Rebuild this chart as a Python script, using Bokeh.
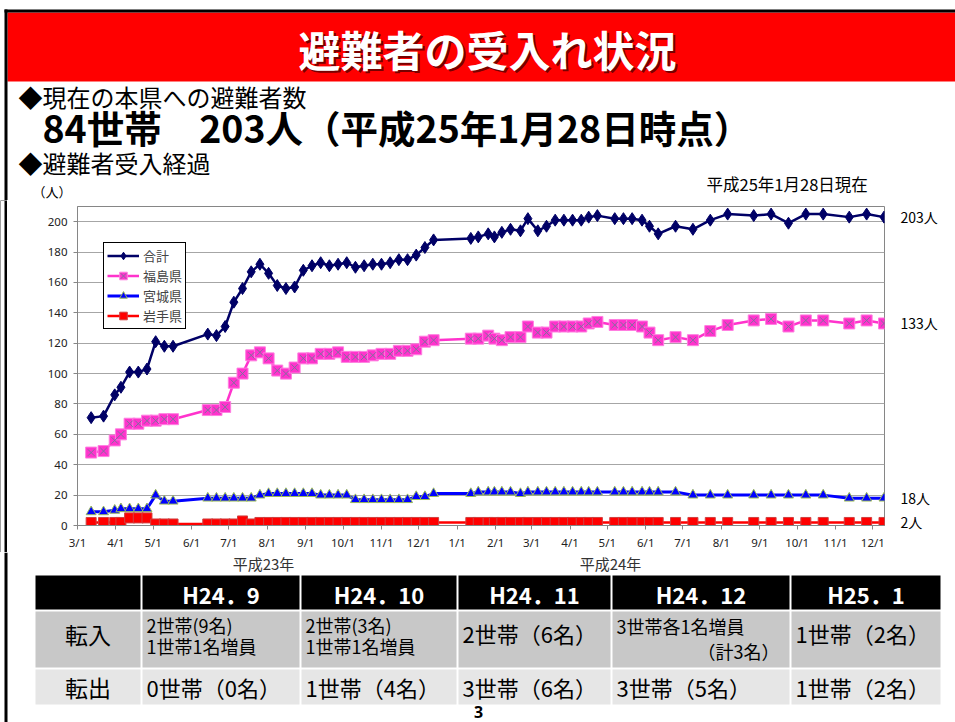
import pandas as pd
from datetime import datetime, timedelta
from bokeh.plotting import figure
from bokeh.layouts import column, row
from bokeh.models import (Range1d, BoxAnnotation, Label, Legend, LegendItem, LinearAxis,
                          FixedTicker, CustomJSTickFormatter, ColumnDataSource)
from bokeh.embed import file_html
from bokeh.resources import INLINE

# ---------------- data ----------------
dates = [
    "2011-03-12", "2011-03-22", "2011-03-31", "2011-04-05", "2011-04-12", "2011-04-19", "2011-04-26", "2011-05-03", "2011-05-10", "2011-05-17",
    "2011-06-14", "2011-06-21", "2011-06-28", "2011-07-05", "2011-07-12", "2011-07-19", "2011-07-26", "2011-08-02", "2011-08-09", "2011-08-16",
    "2011-08-23", "2011-08-30", "2011-09-06", "2011-09-13", "2011-09-20", "2011-09-27", "2011-10-04", "2011-10-11", "2011-10-18", "2011-10-25",
    "2011-11-01", "2011-11-08", "2011-11-15", "2011-11-22", "2011-11-29", "2011-12-06", "2011-12-13",
    "2012-01-12", "2012-01-18", "2012-01-26", "2012-01-31", "2012-02-06", "2012-02-13", "2012-02-21", "2012-02-27", "2012-03-06",
    "2012-03-13", "2012-03-20", "2012-03-27", "2012-04-03", "2012-04-10", "2012-04-16", "2012-04-23",
    "2012-05-07", "2012-05-14", "2012-05-21", "2012-05-29", "2012-06-04", "2012-06-11", "2012-06-25", "2012-07-09", "2012-07-23",
    "2012-08-06", "2012-08-27", "2012-09-10", "2012-09-24", "2012-10-08", "2012-10-22", "2012-11-12", "2012-11-26", "2012-12-10",
]
total = [71, 72, 86, 91, 101, 101, 103, 121, 118, 118,
         126, 125, 131, 147, 156, 167, 172, 166, 158, 156,
         157, 168, 171, 173, 171, 172, 173, 170, 171, 172,
         172, 173, 175, 175, 178, 183, 188,
         189, 190, 192, 190, 193, 195, 194, 202, 194, 197, 201, 201, 201, 201, 203, 204,
         202, 202, 202, 201, 197, 192, 197, 195, 201, 205, 204, 205, 199, 205, 205, 203, 205, 203]
fukushima = [48, 49, 56, 60, 67, 67, 69, 69, 70, 70,
             76, 76, 78, 94, 100, 112, 114, 110, 102, 100,
             104, 110, 110, 113, 113, 114, 111, 111, 111, 112,
             113, 113, 115, 115, 116, 121, 122,
             123, 123, 125, 123, 122, 124, 124, 131, 127, 127, 131, 131, 131, 131, 133, 134,
             132, 132, 132, 131, 127, 122, 124, 122, 128, 132, 135, 136, 131, 135, 135, 133, 135, 133]
miyagi = [9, 9, 10, 11, 11, 11, 11, 20, 16, 16,
          18, 18, 18, 18, 18, 18, 20, 21, 21, 21,
          21, 21, 21, 20, 20, 20, 20, 17, 17, 17,
          17, 17, 17, 17, 19, 19, 21,
          21, 22, 22, 22, 22, 22, 21, 22, 22, 22, 22, 22, 22, 22, 22, 22,
          22, 22, 22, 22, 22, 22, 22, 20, 20, 20, 20, 20, 20, 20, 20, 18, 18, 18]
iwate = [2, 2, 2, 2, 5, 5, 5, 1, 1, 1,
         1, 1, 1, 1, 3, 1, 2, 2, 2, 2,
         2, 2, 2, 2, 2, 2, 2, 2, 2, 2,
         2, 2, 2, 2, 2, 2, 2,
         2, 2, 2, 2, 2, 2, 2, 2, 2, 2, 2, 2, 2, 2, 2, 2,
         2, 2, 2, 2, 2, 2, 2, 2, 2, 2, 2, 2, 2, 2, 2, 2, 2, 2]
series_names = ["合計", "福島県", "宮城県", "岩手県"]
y_ticks = [0, 20, 40, 60, 80, 100, 120, 140, 160, 180, 200]
x_tick_dates = pd.date_range("2011-03-01", "2012-12-01", freq="MS")
year_labels = ["平成23年", "平成24年"]
unit_label = "（人）"
asof_label = "平成25年1月28日現在"

title_text = "避難者の受入れ状況"
heading1 = "◆現在の本県への避難者数"
headline = "84世帯　203人（平成25年1月28日時点）"
heading2 = "◆避難者受入経過"

table_months = ["H24．9", "H24．10", "H24．11", "H24．12", "H25．1"]
row_labels = ["転入", "転出"]
transfer_in = [["2世帯(9名)", "1世帯1名増員"], ["2世帯(3名)", "1世帯1名増員"], ["2世帯（6名）"],
               ["3世帯各1名増員", "（計3名）"], ["1世帯（2名）"]]
transfer_out = ["0世帯（0名）", "1世帯（4名）", "3世帯（6名）", "3世帯（5名）", "1世帯（2名）"]
page_no = "3"

# ---------------- layout constants ----------------
W = 955
HEAD_H = 200          # page rows 0..200
MID_H = 352           # page rows 200..552
STRIP_W = 7           # white gap 0..4 + black slide border 4..7
FL, FR, FT, FB = 77, 884, 206, 525     # plot frame in page pixels
JP = "Noto Sans CJK JP"
NAVY, PINK, BLUE, RED = "#000066", "#FF33CC", "#0000FF", "#FF0000"


def page_fig(width, y0, y1, bg="white"):
    f = figure(width=width, height=y1 - y0, output_backend="svg", toolbar_location=None,
               x_range=Range1d(0, width), y_range=Range1d(y1, y0),
               x_axis_location=None, y_axis_location=None, min_border=0, title=None,
               outline_line_color=None, background_fill_color=bg, border_fill_color=bg)
    f.grid.visible = False
    return f


def box(f, l, r, t, b, color):
    f.add_layout(BoxAnnotation(left=l, right=r, top=t, bottom=b, fill_color=color, fill_alpha=1,
                               line_color=None, level="annotation"))


def label(f, x, y, text, size, color="black", bold=False, align="left", font=JP, alpha=1.0):
    f.add_layout(Label(x=x, y=y, text=text, text_font=font, text_font_size=f"{size}px",
                       text_font_style="bold" if bold else "normal", text_color=color,
                       text_alpha=alpha, text_align=align, text_baseline="middle"))


# ---------------- header ----------------
head = page_fig(W, 0, HEAD_H)
box(head, 7, W, 12, 81, "#FF0000")
box(head, 4, W, 9, 12, "#000000")
box(head, 4, 7, 9, HEAD_H, "#000000")
label(head, 489, 50, title_text, 42, color="#3a0000", bold=True, align="center", alpha=0.7)
label(head, 487, 48, title_text, 42, color="white", bold=True, align="center")
label(head, 18, 96, heading1, 24)
label(head, 42, 126, headline, 37.5, bold=True)
label(head, 18, 162, heading2, 24)
label(head, 706, 183, asof_label, 16.5)
label(head, 32, 191, unit_label, 13)

# ---------------- left slide border beside the chart ----------------
strip = page_fig(STRIP_W, HEAD_H, HEAD_H + MID_H, bg="black")
box(strip, 0, 4, HEAD_H, HEAD_H + MID_H, "#FFFFFF")
strip_col = column(strip)

# ---------------- chart ----------------
x0 = datetime(2011, 3, 1)
x1 = x0 + timedelta(days=650.4)
p = figure(width=W - STRIP_W, height=MID_H, output_backend="svg", toolbar_location=None,
           x_axis_type="datetime", x_range=Range1d(x0, x1), y_range=Range1d(0, 210), title=None,
           min_border_left=FL - STRIP_W, min_border_right=W - FR,
           min_border_top=FT - HEAD_H, min_border_bottom=HEAD_H + MID_H - FB,
           background_fill_color="white", border_fill_color="white")

p.xaxis.ticker = FixedTicker(ticks=[d.value / 1e6 for d in x_tick_dates])
p.xaxis.formatter = CustomJSTickFormatter(
    code="const d = new Date(tick); return (d.getUTCMonth() + 1) + '/' + d.getUTCDate();")
p.yaxis.ticker = FixedTicker(ticks=y_ticks)
for ax in (p.xaxis, p.yaxis):
    ax.axis_line_color = "#868686"
    ax.major_tick_line_color = "#868686"
    ax.major_tick_out = 4
    ax.major_tick_in = 0
    ax.minor_tick_line_color = None
    ax.major_label_text_font = "Noto Sans"
    ax.major_label_text_font_size = "11.5px"
    ax.major_label_text_color = "#222222"
p.xaxis.major_label_standoff = 5
p.yaxis.major_label_standoff = 6
p.xgrid.visible = False
p.ygrid.grid_line_color = "#A6A6A6"
p.outline_line_color = "#868686"

src = ColumnDataSource(dict(x=pd.to_datetime(dates), total=total, fuku=fukushima,
                            miya=miyagi, iwa=iwate))
l1 = p.line("x", "total", source=src, line_color=NAVY, line_width=2.5)
m1 = p.scatter("x", "total", source=src, marker="diamond", size=12, fill_color=NAVY, line_color=NAVY)
l2 = p.line("x", "fuku", source=src, line_color=PINK, line_width=2.5)
m2 = p.scatter("x", "fuku", source=src, marker="square", size=11, fill_color=PINK,
               line_color="#FF7FE0", line_width=1)
m2x = p.scatter("x", "fuku", source=src, marker="x", size=9, line_color="#7F6F9F", line_width=1)
l3 = p.line("x", "miya", source=src, line_color=BLUE, line_width=3)
m3 = p.scatter("x", "miya", source=src, marker="triangle", size=10, fill_color=BLUE,
               line_color="#9BBB59", line_width=1)
l4 = p.line("x", "iwa", source=src, line_color=RED, line_width=2.5)
m4 = p.scatter("x", "iwa", source=src, marker="square", size=10, fill_color=RED,
               line_color="#D04040", line_width=1)

legend = Legend(items=[LegendItem(label=series_names[0], renderers=[l1, m1]),
                       LegendItem(label=series_names[1], renderers=[l2, m2, m2x]),
                       LegendItem(label=series_names[2], renderers=[l3, m3]),
                       LegendItem(label=series_names[3], renderers=[l4, m4])],
                location=(26, 196), orientation="vertical",
                border_line_color="black", border_line_width=1, border_line_alpha=1,
                background_fill_color="white", background_fill_alpha=1,
                label_text_font=JP, label_text_font_size="13px",
                glyph_width=32, glyph_height=19, label_height=19, label_standoff=4,
                spacing=1, padding=3, margin=0)
p.add_layout(legend)

# latest value of each series, shown on the right
last_vals = [total[-1], fukushima[-1], miyagi[-1], iwate[-1]]
right_ax = LinearAxis(ticker=FixedTicker(ticks=last_vals),
                      formatter=CustomJSTickFormatter(code="return tick + '人';"),
                      axis_line_color=None, major_tick_line_color=None, minor_tick_line_color=None,
                      major_label_standoff=10, major_label_text_font=JP,
                      major_label_text_font_size="14px", major_label_text_color="black")
p.add_layout(right_ax, "right")

# ---------------- footer: year labels + table ----------------
y_top = HEAD_H + MID_H
foot = page_fig(W, y_top, 722)
box(foot, 4, 7, y_top, 722, "#000000")
label(foot, 263, 563, year_labels[0], 15, color="#333333", align="center")
label(foot, 610, 563, year_labels[1], 15, color="#333333", align="center")

col_l = [35, 142, 301, 458, 612, 791]
col_r = [140, 299, 456, 610, 789, 940]
hdr = (575, 609)
row1 = (611, 667)
row2 = (669, 704)
for i in range(6):
    box(foot, col_l[i], col_r[i], hdr[0], hdr[1], "#000000")
    box(foot, col_l[i], col_r[i], row1[0], row1[1], "#C8C8C8")
    box(foot, col_l[i], col_r[i], row2[0], row2[1], "#E6E6E6")
for i, m in enumerate(table_months):
    c = (col_l[i + 1] + col_r[i + 1]) / 2
    label(foot, c, 593, m, 22, color="white", bold=True, align="center")
label(foot, (col_l[0] + col_r[0]) / 2, 633, row_labels[0], 23, align="center")
label(foot, (col_l[0] + col_r[0]) / 2, 686, row_labels[1], 23, align="center")
for i, lines in enumerate(transfer_in):
    x = col_l[i + 1] + 4
    if len(lines) == 1:
        label(foot, x, 632, lines[0], 22)
    elif i == 3:
        label(foot, x, 625, lines[0], 18)
        label(foot, col_r[i + 1] - 10, 650, lines[1], 18, align="right")
    else:
        label(foot, x, 624, lines[0], 18)
        label(foot, x, 645, lines[1], 18)
for i, t in enumerate(transfer_out):
    label(foot, col_l[i + 1] + 4, 686, t, 22)
label(foot, 478, 711, page_no, 16, bold=True, align="center", font="Noto Sans")

layout = column(head, row(strip_col, p), foot)
open("out.html", "w").write(file_html(layout, INLINE))
